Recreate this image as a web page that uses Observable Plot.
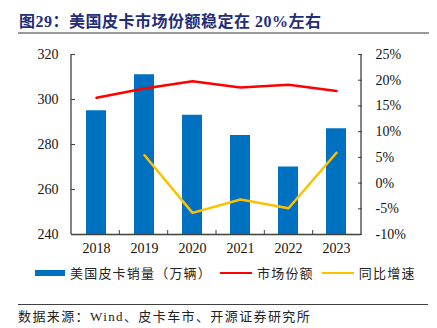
<!DOCTYPE html>
<html>
<head>
<meta charset="utf-8">
<script src="https://cdn.jsdelivr.net/npm/d3@7"></script>
<script src="https://cdn.jsdelivr.net/npm/@observablehq/plot@0.6"></script>
<style>
  html, body { margin: 0; padding: 0; background: #fff; }
  body { width: 437px; height: 328px; position: relative; overflow: hidden; }
  .abs { position: absolute; white-space: nowrap; }
  #title { left: 19px; top: 12.5px; font: bold 16px/17px "Liberation Serif", "Noto Sans CJK SC", serif; color: #1F2D7A; letter-spacing: 0.5px; }
  #tline { left: 18px; top: 32px; width: 411px; height: 2px; background: #9a9a9a; }
  #chart { left: 0; top: 40px; }
  #legend { left: 35px; top: 265px; font: 13px/16px "Noto Sans CJK SC", sans-serif; color: #222; letter-spacing: 1.2px; display: flex; align-items: center; }
  #legend .sw { display: inline-block; margin-right: 5px; }
  #sline { left: 18px; top: 304px; width: 410px; height: 1px; background: #404040; }
  #source { left: 18px; top: 309px; font: 13px/16px "Liberation Serif", "Noto Sans CJK SC", serif; color: #222; letter-spacing: 1.4px; }
</style>
</head>
<body>
<div id="title" class="abs"></div>
<div id="tline" class="abs"></div>
<div id="chart" class="abs"></div>
<div id="legend" class="abs"></div>
<div id="sline" class="abs"></div>
<div id="source" class="abs"></div>
<script>
const titleText = "图29：美国皮卡市场份额稳定在 20%左右";
const sourceText = "数据来源：Wind、皮卡车市、开源证券研究所";
const years = ["2018", "2019", "2020", "2021", "2022", "2023"];
const sales = [295, 311, 293, 284, 270, 287];
const share = [16.6, 18.4, 19.8, 18.6, 19.1, 17.9];
const yoy = [null, 5.4, -5.8, -3.2, -4.9, 5.9];
const leftTicks = [240, 260, 280, 300, 320];
const rightTicks = [-10, -5, 0, 5, 10, 15, 20, 25];
const seriesNames = ["美国皮卡销量（万辆）", "市场份额", "同比增速"];
const colors = ["#0070C0", "#FF0000", "#FFC000"];

const leftDomain = [240, 320];
const rightDomain = [-10, 25];
const toLeft = p => leftDomain[0] + (p - rightDomain[0]) * (leftDomain[1] - leftDomain[0]) / (rightDomain[1] - rightDomain[0]);
const toRight = v => rightDomain[0] + (v - leftDomain[0]) * (rightDomain[1] - rightDomain[0]) / (leftDomain[1] - leftDomain[0]);

const data = years.map((y, i) => ({year: y, sales: sales[i], share: share[i], yoy: yoy[i]}));
const axisColor = "#404040";

const chart = Plot.plot({
  width: 437,
  height: 225,
  marginTop: 14,
  marginBottom: 31,
  marginLeft: 71,
  marginRight: 76,
  style: {fontFamily: "'Liberation Serif', serif", fontSize: "14px", color: "#111", background: "transparent", overflow: "visible"},
  x: {domain: years, type: "band", paddingInner: 0.59, paddingOuter: 0.295, label: null},
  y: {domain: leftDomain, label: null},
  marks: [
    Plot.barY(data, {x: "year", y1: leftDomain[0], y2: "sales", fill: colors[0]}),
    Plot.line(data, {x: "year", y: d => toLeft(d.share), stroke: colors[1], strokeWidth: 2.5}),
    Plot.line(data.filter(d => d.yoy != null), {x: "year", y: d => toLeft(d.yoy), stroke: colors[2], strokeWidth: 2.5}),
    Plot.axisX({tickSize: 0, tickPadding: 9, fontSize: 14}),
    Plot.axisY({anchor: "left", ticks: leftTicks, tickSize: 0, tickPadding: 13, fontSize: 14}),
    Plot.axisY({anchor: "left", ticks: leftTicks, tickSize: 4, dx: 4, tickFormat: () => "", stroke: axisColor}),
    Plot.axisY({anchor: "right", ticks: rightTicks.map(toLeft), tickFormat: v => Math.round(toRight(v)) + "%", tickSize: 0, tickPadding: 14, fontSize: 14}),
    Plot.axisY({anchor: "right", ticks: rightTicks.map(toLeft), tickSize: 4, dx: -4, tickFormat: () => "", stroke: axisColor}),
    Plot.ruleY([leftDomain[0]], {stroke: axisColor, strokeWidth: 1.3})
  ]
});
document.getElementById("chart").appendChild(chart);

// vertical axis lines and category boundary ticks, from the plot's own scales
const sx = chart.scale("x"), sy = chart.scale("y");
const svg = d3.select(chart);
const r0 = sx.range[0], r1 = sx.range[1];
const n = sx.domain.length;
const step = (r1 - r0) / (n - sx.paddingInner + 2 * sx.paddingOuter);
const yb = sy.apply(leftDomain[0]), yt = sy.apply(leftDomain[1]);
const g = svg.append("g").attr("stroke", axisColor).attr("stroke-width", 1.3);
[r0, r1].forEach(x => g.append("line").attr("x1", x).attr("x2", x).attr("y1", yt).attr("y2", yb));
for (let k = 1; k < n; k++) {
  const x = r0 + k * step;
  g.append("line").attr("x1", x).attr("x2", x).attr("y1", yb).attr("y2", yb - 4).attr("stroke-width", 1);
}

document.getElementById("title").textContent = titleText;
document.getElementById("source").textContent = sourceText;
const legend = document.getElementById("legend");
seriesNames.forEach((name, i) => {
  const sw = document.createElement("span");
  sw.className = "sw";
  sw.style.width = (i === 0 ? 30 : 32) + "px";
  sw.style.height = (i === 0 ? 6 : 2.5) + "px";
  sw.style.background = colors[i];
  const t = document.createElement("span");
  t.textContent = name;
  t.style.marginRight = "8px";
  legend.appendChild(sw);
  legend.appendChild(t);
});
</script>
</body>
</html>
